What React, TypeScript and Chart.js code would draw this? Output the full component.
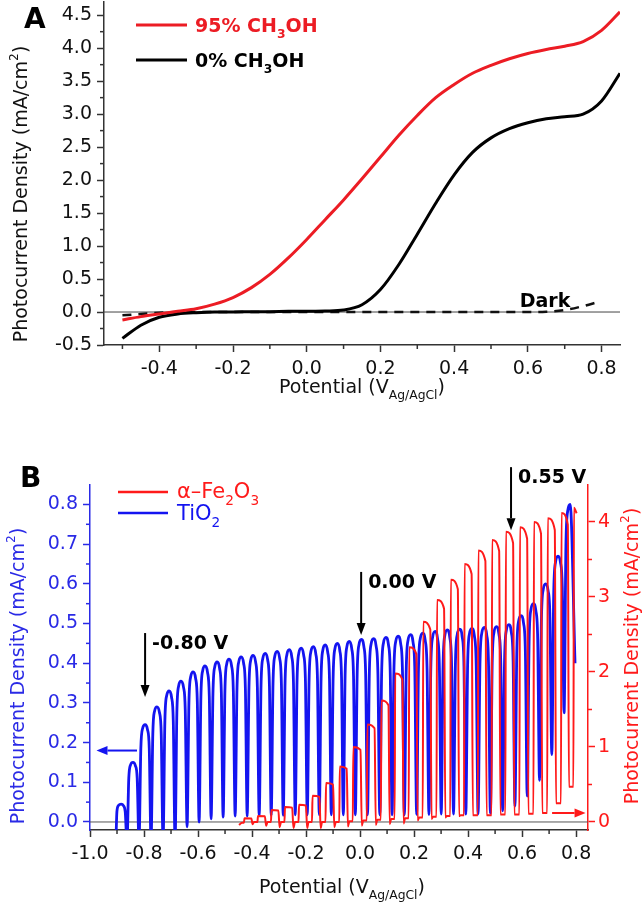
import React, { useEffect, useRef } from 'react';
import { Chart, registerables } from 'chart.js';
Chart.register(...registerables);

const FONT = '"DejaVu Sans", "Liberation Sans", Arial, sans-serif';
const RED_A = '#ec1c24';
const RED_B = '#ff1a1a';
const BLUE_B = '#1414f0';
const BLUE_TXT = '#2a2ae6';

// ---------- Panel A data ----------
const potentialA = [-0.5, -0.45, -0.4, -0.35, -0.3, -0.25, -0.2, -0.15, -0.1, -0.05, 0, 0.05, 0.1, 0.15, 0.2, 0.25, 0.3, 0.35, 0.4, 0.45, 0.5, 0.55, 0.6, 0.65, 0.7, 0.75, 0.8, 0.85];
const current95 = [-0.12, -0.07, -0.03, 0.01, 0.05, 0.12, 0.22, 0.37, 0.57, 0.82, 1.1, 1.4, 1.7, 2.02, 2.35, 2.68, 2.98, 3.25, 3.45, 3.62, 3.74, 3.84, 3.92, 3.98, 4.03, 4.1, 4.27, 4.55];
const current0 = [-0.4, -0.2, -0.08, -0.03, -0.01, 0, 0, 0.005, 0.005, 0.01, 0.01, 0.015, 0.03, 0.11, 0.34, 0.72, 1.18, 1.65, 2.08, 2.42, 2.64, 2.78, 2.87, 2.93, 2.96, 3.0, 3.2, 3.62];
const potentialDark = [-0.5, -0.45, -0.4, -0.3, -0.2, -0.1, 0, 0.1, 0.2, 0.3, 0.4, 0.5, 0.6, 0.65, 0.7, 0.75, 0.79];
const currentDark = [-0.05, -0.03, -0.01, 0, 0, 0, 0, 0, 0, 0, 0, 0, 0, 0.005, 0.03, 0.09, 0.15];
const xTicksA = [-0.4, -0.2, 0, 0.2, 0.4, 0.6, 0.8];
const xTickLabelsA = ['-0.4', '-0.2', '0.0', '0.2', '0.4', '0.6', '0.8'];
const xMinorA = [-0.5, -0.3, -0.1, 0.1, 0.3, 0.5, 0.7];
const yTicksA = [-0.5, 0, 0.5, 1, 1.5, 2, 2.5, 3, 3.5, 4, 4.5];
const yTickLabelsA = ['-0.5', '0.0', '0.5', '1.0', '1.5', '2.0', '2.5', '3.0', '3.5', '4.0', '4.5'];
const yMinorA = [-0.25, 0.25, 0.75, 1.25, 1.75, 2.25, 2.75, 3.25, 3.75, 4.25];

// ---------- Panel B data ----------
// TiO2 (left axis): potential of each light-on peak, peak current, and dark valley after it
const tiO2PeakV = [-0.885, -0.841, -0.796, -0.752, -0.707, -0.663, -0.618, -0.574, -0.529, -0.485, -0.44, -0.396, -0.351, -0.307, -0.262, -0.218, -0.173, -0.129, -0.084, -0.04, 0.005, 0.05, 0.096, 0.141, 0.187, 0.232, 0.278, 0.323, 0.369, 0.414, 0.46, 0.505, 0.551, 0.596, 0.642, 0.687, 0.733, 0.778];
const tiO2Peak = [0.045, 0.15, 0.245, 0.29, 0.33, 0.355, 0.378, 0.393, 0.403, 0.41, 0.416, 0.42, 0.425, 0.43, 0.434, 0.438, 0.442, 0.446, 0.45, 0.455, 0.46, 0.462, 0.465, 0.468, 0.472, 0.476, 0.48, 0.484, 0.486, 0.488, 0.49, 0.492, 0.497, 0.52, 0.55, 0.6, 0.67, 0.8];
const tiO2Valley = [-0.05, -0.05, -0.05, -0.05, -0.05, -0.012, 0.0, 0.008, 0.012, 0.015, 0.015, 0.016, 0.017, 0.017, 0.018, 0.018, 0.018, 0.018, 0.018, 0.018, 0.018, 0.018, 0.018, 0.018, 0.019, 0.019, 0.02, 0.02, 0.02, 0.02, 0.022, 0.028, 0.04, 0.065, 0.105, 0.17, 0.275, 0.4];
const tiO2StartV = -0.905;
const tiO2Start = -0.05;
const tiO2EndV = 0.796;

// alpha-Fe2O3 (right axis): potential of each light-on edge, peak, dip after switching off, dark base
const fe2o3StartV = [-0.448, -0.442, -0.437];
const fe2o3Start = [-0.04, -0.02, -0.01];
const fe2o3RiseV = [-0.43, -0.38, -0.33, -0.28, -0.228, -0.178, -0.128, -0.077, -0.027, 0.025, 0.077, 0.128, 0.18, 0.232, 0.283, 0.334, 0.385, 0.436, 0.487, 0.538, 0.59, 0.642, 0.693, 0.744, 0.79];
const fe2o3Peak = [0.05, 0.08, 0.16, 0.2, 0.23, 0.35, 0.52, 0.74, 1.0, 1.3, 1.62, 1.98, 2.33, 2.67, 2.96, 3.23, 3.44, 3.62, 3.76, 3.87, 3.93, 4.0, 4.05, 4.12, 4.19];
const fe2o3Dip = [-0.03, -0.05, -0.07, -0.08, -0.08, -0.08, -0.07, -0.06, -0.05, -0.04, -0.03, -0.02, 0.02, 0.04, 0.06, 0.08, 0.09, 0.09, 0.1, 0.1, 0.11, 0.12, 0.25, 0.47, 0.47];
const fe2o3Base = [0.0, 0.0, 0.0, 0.0, 0.0, 0.0, 0.0, 0.01, 0.02, 0.03, 0.04, 0.05, 0.06, 0.07, 0.08, 0.09, 0.09, 0.09, 0.1, 0.1, 0.11, 0.12, 0.25, 0.47, 0.47];
const fe2o3EndV = 0.802;

const xTicksB = [-1.0, -0.8, -0.6, -0.4, -0.2, 0, 0.2, 0.4, 0.6, 0.8];
const xTickLabelsB = ['-1.0', '-0.8', '-0.6', '-0.4', '-0.2', '0.0', '0.2', '0.4', '0.6', '0.8'];
const xMinorB = [-0.9, -0.7, -0.5, -0.3, -0.1, 0.1, 0.3, 0.5, 0.7];
const yLeftTicksB = [0, 0.1, 0.2, 0.3, 0.4, 0.5, 0.6, 0.7, 0.8];
const yLeftTickLabelsB = ['0.0', '0.1', '0.2', '0.3', '0.4', '0.5', '0.6', '0.7', '0.8'];
const yLeftMinorB = [0.05, 0.15, 0.25, 0.35, 0.45, 0.55, 0.65, 0.75];
const yRightTicksB = [0, 1, 2, 3, 4];
const yRightTickLabelsB = ['0', '1', '2', '3', '4'];
const yRightMinorB = [0.5, 1.5, 2.5, 3.5];

// annotations: arrow potential, arrow top and tip (left-axis values), label
const arrowV = [-0.796, 0.004, 0.559];
const arrowTop = [0.476, 0.63, 0.894];
const arrowTip = [0.315, 0.471, 0.735];
const arrowLabels = ['-0.80 V', '0.00 V', '0.55 V'];

type Seg = [string, string];

function drawRich(ctx: CanvasRenderingContext2D, segs: Seg[], x: number, y: number, size: number, weight: string, color: string, align: string, rot: number) {
  ctx.save();
  ctx.translate(x, y);
  if (rot) ctx.rotate(rot);
  ctx.fillStyle = color;
  ctx.textBaseline = 'alphabetic';
  ctx.textAlign = 'left';
  let w = 0;
  for (const [t, m] of segs) {
    ctx.font = `${weight} ${m ? size * 0.65 : size}px ${FONT}`;
    w += ctx.measureText(t).width;
  }
  let cx = align === 'center' ? -w / 2 : 0;
  for (const [t, m] of segs) {
    ctx.font = `${weight} ${m ? size * 0.65 : size}px ${FONT}`;
    const dy = m === 'sub' ? size * 0.32 : m === 'sup' ? -size * 0.45 : 0;
    ctx.fillText(t, cx, dy);
    cx += ctx.measureText(t).width;
  }
  ctx.restore();
}

function line(ctx: CanvasRenderingContext2D, x1: number, y1: number, x2: number, y2: number, color: string, width: number) {
  ctx.save();
  ctx.strokeStyle = color;
  ctx.lineWidth = width;
  ctx.beginPath();
  ctx.moveTo(x1, y1);
  ctx.lineTo(x2, y2);
  ctx.stroke();
  ctx.restore();
}

function arrow(ctx: CanvasRenderingContext2D, x1: number, y1: number, x2: number, y2: number, color: string, width: number, hl: number, hw: number) {
  const ang = Math.atan2(y2 - y1, x2 - x1);
  const bx = x2 - hl * Math.cos(ang);
  const by = y2 - hl * Math.sin(ang);
  line(ctx, x1, y1, bx, by, color, width);
  ctx.save();
  ctx.fillStyle = color;
  ctx.beginPath();
  ctx.moveTo(x2, y2);
  ctx.lineTo(bx + hw / 2 * Math.sin(ang), by - hw / 2 * Math.cos(ang));
  ctx.lineTo(bx - hw / 2 * Math.sin(ang), by + hw / 2 * Math.cos(ang));
  ctx.closePath();
  ctx.fill();
  ctx.restore();
}

function minorTicks(ctx: CanvasRenderingContext2D, scale: any, values: number[], side: string, color: string) {
  for (const v of values) {
    const p = scale.getPixelForValue(v);
    if (side === 'bottom') line(ctx, p, scale.top, p, scale.top + 4, color, 1.5);
    else if (side === 'left') line(ctx, scale.right - 4, p, scale.right, p, color, 1.5);
    else line(ctx, scale.left, p, scale.left + 4, p, color, 1.5);
  }
}

const tickFont = { family: FONT, size: 19 };

function buildTiO2() {
  const pts: { x: number; y: number }[] = [{ x: tiO2StartV, y: tiO2Start }];
  let prev = tiO2Start;
  const n = tiO2PeakV.length;
  for (let i = 0; i < n; i++) {
    const c = tiO2PeakV[i];
    const hl = (i > 0 ? c - tiO2PeakV[i - 1] : tiO2PeakV[1] - c) / 2;
    const hr = i < n - 1 ? (tiO2PeakV[i + 1] - c) / 2 : tiO2EndV - c;
    const P = tiO2Peak[i];
    const vn = tiO2Valley[i];
    if (i === 0) pts.push({ x: c - hl * 0.9, y: prev });
    pts.push({ x: c - hl * 0.7, y: prev + 0.8 * (P - prev) });
    pts.push({ x: c - hl * 0.4, y: P - 0.03 * (P - prev) });
    pts.push({ x: c, y: P });
    if (i < n - 1) {
      pts.push({ x: c + hr * 0.4, y: P - 0.04 * (P - vn) });
      pts.push({ x: c + hr * 0.7, y: vn + 0.8 * (P - vn) });
    }
    pts.push({ x: c + hr, y: vn });
    prev = vn;
  }
  return pts;
}

function buildFe2O3() {
  const pts: { x: number; y: number }[] = fe2o3StartV.map((v, i) => ({ x: v, y: fe2o3Start[i] }));
  let base = fe2o3Start[fe2o3Start.length - 1];
  const n = fe2o3RiseV.length;
  for (let i = 0; i < n; i++) {
    const r = fe2o3RiseV[i];
    const p = i < n - 1 ? fe2o3RiseV[i + 1] - r : r - fe2o3RiseV[i - 1];
    const P = fe2o3Peak[i];
    pts.push({ x: r, y: base });
    pts.push({ x: r + 0.04 * p, y: P });
    if (i === n - 1) {
      pts.push({ x: fe2o3EndV, y: P - 0.02 * (P - base) });
      break;
    }
    pts.push({ x: r + 0.55 * p, y: P - 0.04 * (P - base) });
    pts.push({ x: r + 0.64 * p, y: fe2o3Dip[i] });
    pts.push({ x: r + 0.75 * p, y: fe2o3Base[i] });
    base = fe2o3Base[i];
    pts.push({ x: r + 0.96 * p, y: base });
  }
  return pts;
}

const pluginA = {
  id: 'panelA',
  beforeDatasetsDraw(chart: any) {
    const { ctx, chartArea: ca, scales } = chart;
    const y0 = scales.y.getPixelForValue(0);
    line(ctx, ca.left, y0, ca.right, y0, '#444', 1);
  },
  afterDraw(chart: any) {
    const { ctx, chartArea: ca, scales } = chart;
    minorTicks(ctx, scales.x, xMinorA, 'bottom', '#333');
    minorTicks(ctx, scales.y, yMinorA, 'left', '#333');
    ctx.save();
    ctx.font = `bold 28px ${FONT}`;
    ctx.fillStyle = '#000';
    ctx.fillText('A', 24, 28);
    ctx.restore();
    line(ctx, 136, 25, 187, 25, RED_A, 3);
    drawRich(ctx, [['95% CH', ''], ['3', 'sub'], ['OH', '']], 195, 32, 19, 'bold', RED_A, 'left', 0);
    line(ctx, 136, 60, 187, 60, '#000', 3);
    drawRich(ctx, [['0% CH', ''], ['3', 'sub'], ['OH', '']], 195, 67, 19, 'bold', '#000', 'left', 0);
    drawRich(ctx, [['Dark', '']], scales.x.getPixelForValue(0.578), scales.y.getPixelForValue(0) - 5, 19, 'bold', '#000', 'left', 0);
    drawRich(ctx, [['Potential (V', ''], ['Ag/AgCl', 'sub'], [')', '']], (ca.left + ca.right) / 2, 393, 19, 'normal', '#111', 'center', 0);
    drawRich(ctx, [['Photocurrent Density (mA/cm', ''], ['2', 'sup'], [')', '']], 27, 194, 19, 'normal', '#111', 'center', -Math.PI / 2);
  },
};

const pluginB = {
  id: 'panelB',
  beforeDatasetsDraw(chart: any) {
    const { ctx, chartArea: ca, scales } = chart;
    const y0 = scales.yL.getPixelForValue(0);
    line(ctx, ca.left, y0, ca.right, y0, '#555', 1);
  },
  afterDraw(chart: any) {
    const { ctx, chartArea: ca, scales } = chart;
    minorTicks(ctx, scales.x, xMinorB, 'bottom', '#333');
    minorTicks(ctx, scales.yL, yLeftMinorB, 'left', BLUE_TXT);
    minorTicks(ctx, scales.yR, yRightMinorB, 'right', RED_B);
    ctx.save();
    ctx.font = `bold 28px ${FONT}`;
    ctx.fillStyle = '#000';
    ctx.fillText('B', 20, 77);
    ctx.restore();
    line(ctx, 118, 82, 168, 82, RED_B, 2.5);
    drawRich(ctx, [['\u03b1\u2013Fe', ''], ['2', 'sub'], ['O', ''], ['3', 'sub']], 177, 88, 21, 'normal', RED_B, 'left', 0);
    line(ctx, 118, 103, 168, 103, BLUE_B, 2.5);
    drawRich(ctx, [['TiO', ''], ['2', 'sub']], 177, 110, 21, 'normal', BLUE_B, 'left', 0);
    for (let i = 0; i < arrowV.length; i++) {
      const x = scales.x.getPixelForValue(arrowV[i]);
      const yt = scales.yL.getPixelForValue(arrowTop[i]);
      const yb = scales.yL.getPixelForValue(arrowTip[i]);
      arrow(ctx, x, yt, x, yb, '#000', 2, 12, 9);
      drawRich(ctx, [[arrowLabels[i], '']], x + 7, yt + 16, 19, 'bold', '#000', 'left', 0);
    }
    const yb = scales.yL.getPixelForValue(0.18);
    arrow(ctx, scales.x.getPixelForValue(-0.826), yb, scales.x.getPixelForValue(-0.976), yb, BLUE_B, 2, 11, 9);
    const yr = scales.yR.getPixelForValue(0.12);
    arrow(ctx, scales.x.getPixelForValue(0.711), yr, scales.x.getPixelForValue(0.835), yr, RED_B, 2, 11, 9);
    drawRich(ctx, [['Potential (V', ''], ['Ag/AgCl', 'sub'], [')', '']], (ca.left + ca.right) / 2 + 3, 483, 19, 'normal', '#111', 'center', 0);
    drawRich(ctx, [['Photocurrent Density (mA/cm', ''], ['2', 'sup'], [')', '']], 24, 266, 19, 'normal', BLUE_TXT, 'center', -Math.PI / 2);
    drawRich(ctx, [['Photocurrent Density (mA/cm', ''], ['2', 'sup'], [')', '']], 638, 246, 19, 'normal', RED_B, 'center', -Math.PI / 2);
  },
};

function configA(): any {
  const toPts = (xs: number[], ys: number[]) => xs.map((x, i) => ({ x, y: ys[i] }));
  return {
    type: 'line',
    data: {
      datasets: [
        { data: toPts(potentialA, current95), borderColor: RED_A, borderWidth: 3, pointRadius: 0, cubicInterpolationMode: 'monotone', fill: false },
        { data: toPts(potentialA, current0), borderColor: '#000', borderWidth: 3, pointRadius: 0, cubicInterpolationMode: 'monotone', fill: false },
        { data: toPts(potentialDark, currentDark), borderColor: '#111', borderWidth: 2.5, borderDash: [9, 7], pointRadius: 0, cubicInterpolationMode: 'monotone', fill: false },
      ],
    },
    options: {
      animation: false,
      responsive: false,
      devicePixelRatio: 1,
      layout: { padding: { top: 2, right: 24, left: 0, bottom: 0 } },
      plugins: { legend: { display: false }, tooltip: { enabled: false } },
      scales: {
        x: {
          type: 'linear', min: -0.55, max: 0.85,
          afterFit: (s: any) => { s.height = 65; s.paddingLeft = 0; s.paddingRight = 0; },
          afterBuildTicks: (s: any) => { s.ticks = xTicksA.map((v) => ({ value: v })); },
          ticks: { callback: (_v: any, i: number) => xTickLabelsA[i], font: tickFont, color: '#111', padding: 6, maxRotation: 0, autoSkip: false },
          grid: { drawOnChartArea: false, tickLength: 7, tickColor: '#333', tickWidth: 1.5 },
          border: { color: '#333', width: 1.5 },
        },
        y: {
          type: 'linear', min: -0.5, max: 4.7,
          afterFit: (s: any) => { s.width = 104; s.paddingTop = 0; s.paddingBottom = 0; },
          afterBuildTicks: (s: any) => { s.ticks = yTicksA.map((v) => ({ value: v })); },
          ticks: { callback: (_v: any, i: number) => yTickLabelsA[i], font: tickFont, color: '#111', padding: 5, autoSkip: false },
          grid: { drawOnChartArea: false, tickLength: 7, tickColor: '#333', tickWidth: 1.5 },
          border: { color: '#333', width: 1.5 },
        },
      },
    },
    plugins: [pluginA],
  };
}

function configB(): any {
  return {
    type: 'line',
    data: {
      datasets: [
        { data: buildFe2O3(), yAxisID: 'yR', borderColor: RED_B, borderWidth: 2, pointRadius: 0, cubicInterpolationMode: 'monotone', fill: false },
        { data: buildTiO2(), yAxisID: 'yL', borderColor: BLUE_B, borderWidth: 2.8, pointRadius: 0, cubicInterpolationMode: 'monotone', fill: false },
      ],
    },
    options: {
      animation: false,
      responsive: false,
      devicePixelRatio: 1,
      layout: { padding: { top: 75, right: 0, left: 0, bottom: 0 } },
      plugins: { legend: { display: false }, tooltip: { enabled: false } },
      scales: {
        x: {
          type: 'linear', min: -1.0, max: 0.844,
          afterFit: (s: any) => { s.height = 75; s.paddingLeft = 0; s.paddingRight = 0; },
          afterBuildTicks: (s: any) => { s.ticks = xTicksB.map((v) => ({ value: v })); },
          ticks: { callback: (_v: any, i: number) => xTickLabelsB[i], font: tickFont, color: '#111', padding: 6, maxRotation: 0, autoSkip: false },
          grid: { drawOnChartArea: false, tickLength: 7, tickColor: '#333', tickWidth: 1.5 },
          border: { color: '#333', width: 1.5 },
        },
        yL: {
          type: 'linear', position: 'left', min: -0.0202, max: 0.849,
          afterFit: (s: any) => { s.width = 90; s.paddingTop = 0; s.paddingBottom = 0; },
          afterBuildTicks: (s: any) => { s.ticks = yLeftTicksB.map((v) => ({ value: v })); },
          ticks: { callback: (_v: any, i: number) => yLeftTickLabelsB[i], font: tickFont, color: BLUE_TXT, padding: 5, autoSkip: false },
          grid: { drawOnChartArea: false, tickLength: 7, tickColor: BLUE_TXT, tickWidth: 1.5 },
          border: { color: BLUE_TXT, width: 1.5 },
        },
        yR: {
          type: 'linear', position: 'right', min: -0.1067, max: 4.493,
          afterFit: (s: any) => { s.width = 56; s.paddingTop = 0; s.paddingBottom = 0; },
          afterBuildTicks: (s: any) => { s.ticks = yRightTicksB.map((v) => ({ value: v })); },
          ticks: { callback: (_v: any, i: number) => yRightTickLabelsB[i], font: tickFont, color: RED_B, padding: 3, autoSkip: false },
          grid: { drawOnChartArea: false, tickLength: 7, tickColor: RED_B, tickWidth: 1.5 },
          border: { color: RED_B, width: 1.5 },
        },
      },
    },
    plugins: [pluginB],
  };
}

export default function App() {
  const refA = useRef<HTMLCanvasElement>(null);
  const refB = useRef<HTMLCanvasElement>(null);
  useEffect(() => {
    document.body.style.margin = '0';
    const a = new Chart(refA.current as HTMLCanvasElement, configA());
    const b = new Chart(refB.current as HTMLCanvasElement, configB());
    return () => {
      a.destroy();
      b.destroy();
    };
  }, []);
  return (
    <div style={{ width: 644, height: 905, background: '#fff' }}>
      <canvas ref={refA} width={644} height={410} style={{ display: 'block' }} />
      <canvas ref={refB} width={644} height={495} style={{ display: 'block' }} />
    </div>
  );
}
